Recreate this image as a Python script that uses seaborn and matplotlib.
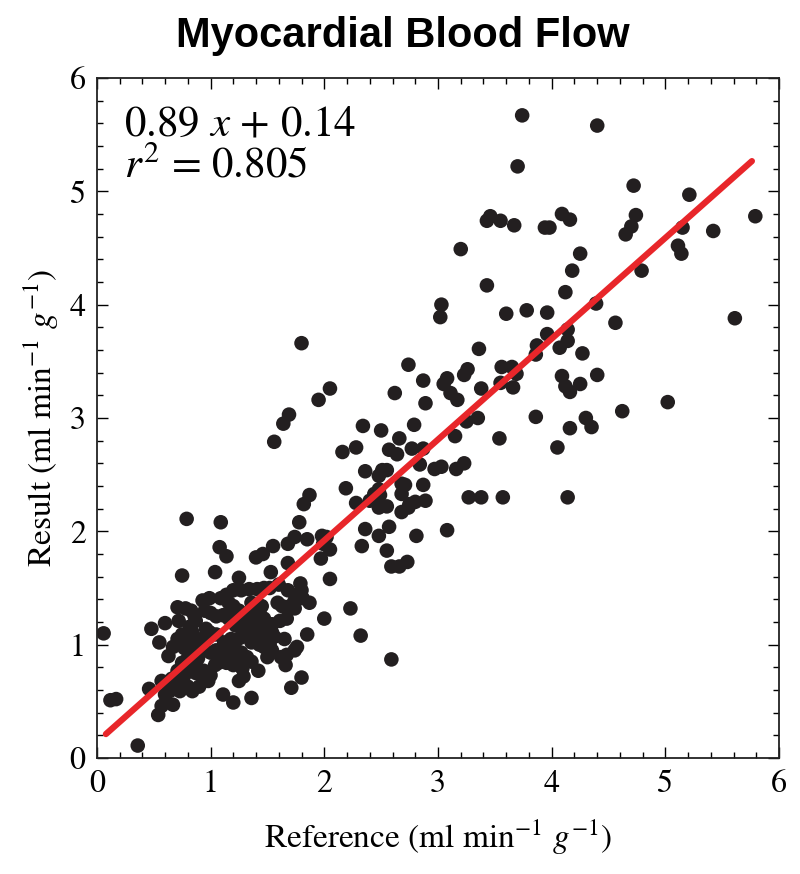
import numpy as np
import pandas as pd
import seaborn as sns
import matplotlib.pyplot as plt
from matplotlib.ticker import MultipleLocator

# Values (ml/min/g)
reference = [
    3.74, 4.40, 3.70, 4.72, 5.21, 5.79, 4.74, 4.70, 4.65, 5.15, 5.11, 5.14, 5.42,
    3.43, 3.46, 3.55, 3.67, 3.94, 3.98, 4.09, 4.16, 3.20, 4.25, 4.18, 4.79, 3.43,
    4.12, 3.03, 3.02, 4.39, 3.78, 3.60, 3.96, 4.56, 5.61, 3.96, 4.14, 3.87, 4.07,
    4.14, 3.86, 4.27, 3.36, 2.74, 1.80, 3.65, 3.56, 3.69, 4.40, 4.09, 3.26, 3.23,
    3.08, 3.05, 2.87, 3.55, 4.25, 3.66, 3.38, 4.12, 4.16, 2.62, 2.05, 3.11, 3.17,
    2.89, 1.95, 5.02, 4.62, 1.69, 1.64, 3.86, 4.30, 3.35, 3.25, 4.35, 4.16, 2.34,
    2.50, 1.56, 2.16, 2.28, 2.66, 2.79, 3.15, 3.54, 4.05, 2.57, 2.64, 2.77, 2.87,
    2.84, 2.71, 2.51, 2.55, 2.48, 2.36, 2.97, 3.03, 3.16, 3.23, 2.68, 2.87, 2.19,
    2.48, 2.44, 2.49, 2.68, 2.75, 2.74, 2.68, 2.80, 2.89, 2.28, 2.40, 2.55, 2.48,
    3.27, 3.38, 3.57, 4.14, 1.87, 1.82, 1.78, 2.57, 2.36, 3.08, 2.81, 2.48, 2.33,
    2.55, 2.59, 2.66, 2.73, 0.79, 1.09, 1.08, 1.14, 1.04, 0.75, 1.25, 1.40, 1.46,
    1.55, 1.74, 1.68, 1.68, 1.53, 1.60, 1.79, 1.85, 1.98, 2.02, 1.99, 1.97, 2.05,
    2.05, 2.00, 2.23, 2.32, 2.59,
    0.06, 0.12, 0.17, 0.36, 0.48, 0.55, 0.60, 0.63, 0.71, 0.72, 0.46, 0.54, 0.57,
    0.67, 1.11, 1.20, 1.36, 1.42, 1.66, 1.71, 1.80, 1.76, 1.87, 1.85, 1.54, 1.25,
    1.20, 1.27, 1.34, 1.41, 1.47, 1.52, 1.14, 1.09, 0.99, 0.93, 1.16, 1.20, 0.78,
    0.83, 0.86, 0.87, 0.82, 0.84, 0.83, 0.80, 0.77, 1.59, 1.63, 1.70, 1.74, 1.76,
    1.74, 1.67, 1.61, 1.54, 1.54, 1.56, 1.52, 1.47, 1.43, 1.36, 1.30, 1.35, 1.38,
    1.32, 1.40, 1.28, 1.36, 1.30, 1.42, 1.25, 1.23, 1.27, 1.43, 1.47, 1.45, 1.36,
    0.95, 1.00, 1.05, 1.11, 1.16, 0.96, 0.99, 1.05, 0.94, 0.89, 0.94, 1.00, 1.05,
    1.09, 1.14, 1.18, 1.16, 1.21, 1.27, 1.32, 1.36, 1.25, 1.20, 1.14, 1.07, 1.04,
    1.00, 0.98, 0.94, 0.87, 0.82, 0.77, 0.73, 0.69, 0.64, 0.60, 0.57, 0.66, 0.71,
    0.75, 0.80, 0.84, 0.89, 0.87, 0.80, 0.84, 0.73, 0.90, 0.94, 1.28, 1.29, 1.62,
    1.67, 1.74, 1.65, 1.50, 0.67, 0.75, 0.71, 1.68, 1.80, 1.81,
    1.33, 1.39, 1.26, 1.44, 1.31, 1.22, 1.37, 1.46, 1.18, 1.12, 0.91, 0.85,
]
result = [
    5.67, 5.58, 5.22, 5.05, 4.97, 4.78, 4.79, 4.69, 4.62, 4.68, 4.52, 4.45, 4.65,
    4.74, 4.78, 4.74, 4.70, 4.68, 4.68, 4.80, 4.75, 4.49, 4.45, 4.30, 4.30, 4.17,
    4.11, 4.00, 3.89, 4.01, 3.95, 3.92, 3.93, 3.84, 3.88, 3.74, 3.78, 3.64, 3.62,
    3.68, 3.56, 3.57, 3.61, 3.47, 3.66, 3.45, 3.45, 3.39, 3.38, 3.37, 3.43, 3.38,
    3.35, 3.30, 3.33, 3.31, 3.30, 3.27, 3.26, 3.28, 3.23, 3.22, 3.26, 3.22, 3.16,
    3.13, 3.16, 3.14, 3.06, 3.03, 2.95, 3.01, 3.00, 3.00, 2.97, 2.92, 2.91, 2.93,
    2.89, 2.79, 2.70, 2.74, 2.82, 2.94, 2.84, 2.82, 2.74, 2.72, 2.68, 2.73, 2.73,
    2.59, 2.41, 2.54, 2.54, 2.49, 2.53, 2.55, 2.57, 2.55, 2.60, 2.42, 2.41, 2.38,
    2.37, 2.33, 2.32, 2.33, 2.24, 2.21, 2.17, 2.26, 2.27, 2.25, 2.27, 2.22, 2.21,
    2.30, 2.30, 2.30, 2.30, 2.32, 2.24, 2.08, 2.04, 2.02, 2.01, 1.96, 1.96, 1.87,
    1.83, 1.69, 1.69, 1.73, 2.11, 2.08, 1.86, 1.78, 1.64, 1.61, 1.59, 1.77, 1.80,
    1.87, 1.95, 1.89, 1.72, 1.64, 1.53, 1.54, 1.93, 1.96, 1.95, 1.89, 1.76, 1.84,
    1.58, 1.23, 1.32, 1.08, 0.87,
    1.10, 0.51, 0.52, 0.11, 1.14, 1.02, 1.19, 0.90, 1.33, 1.21, 0.61, 0.38, 0.46,
    0.47, 0.56, 0.49, 0.53, 0.77, 0.82, 0.62, 0.71, 0.98, 1.37, 1.09, 0.95, 0.68,
    1.48, 1.48, 1.49, 1.49, 1.50, 1.50, 1.44, 1.41, 1.41, 1.39, 1.37, 1.34, 1.32,
    1.30, 1.25, 1.21, 1.16, 1.11, 1.06, 1.00, 0.97, 1.37, 1.34, 1.34, 1.39, 1.44,
    1.32, 1.23, 1.21, 1.18, 1.11, 1.07, 1.00, 0.98, 1.00, 1.02, 1.18, 1.15, 1.20,
    1.10, 1.12, 1.14, 1.24, 1.26, 1.18, 1.30, 1.25, 1.21, 1.30, 1.23, 1.34, 1.37,
    1.30, 1.28, 1.25, 1.26, 1.23, 1.14, 1.11, 1.09, 1.06, 1.00, 0.95, 0.93, 0.95,
    0.93, 0.91, 0.89, 0.95, 0.99, 0.93, 0.89, 0.85, 0.84, 0.82, 0.84, 0.84, 0.82,
    0.73, 0.68, 0.70, 0.75, 0.77, 0.73, 0.68, 0.63, 0.59, 0.56, 0.68, 0.70, 0.77,
    0.84, 0.88, 0.91, 0.88, 0.82, 0.63, 0.59, 0.59, 0.63, 0.77, 0.79, 0.72, 0.89,
    0.91, 0.95, 1.05, 0.89, 0.98, 1.09, 1.05, 1.48, 1.48, 1.41,
    1.13, 1.08, 1.06, 1.06, 1.22, 1.17, 1.28, 1.16, 1.05, 1.02, 1.02, 1.00,
]

# fitted line as printed on the figure
slope, intercept, r2 = 0.89, 0.14, 0.805
line_x = np.array([0.08, 5.76])

df = pd.DataFrame({"Reference": reference, "Result": result})

sns.set_theme(style="ticks")
plt.rcParams['font.family'] = ['STIXGeneral', 'DejaVu Serif']
plt.rcParams['mathtext.fontset'] = 'stix'
plt.rcParams['text.color'] = 'black'
plt.rcParams['axes.labelcolor'] = 'black'
plt.rcParams['xtick.color'] = 'black'
plt.rcParams['ytick.color'] = 'black'

fig = plt.figure(figsize=(8, 8.74), dpi=100)
ax = fig.add_axes([0.121, 0.1327, 0.853, 0.7781])

sns.scatterplot(data=df, x="Reference", y="Result", ax=ax, color="#231f20",
                s=110, edgecolor="none", zorder=2)
sns.lineplot(x=line_x, y=slope * line_x + intercept, ax=ax, color="#e8262a",
             linewidth=4.5, zorder=3)

ax.set_xlim(0, 6)
ax.set_ylim(0, 6)
ax.xaxis.set_major_locator(MultipleLocator(1))
ax.yaxis.set_major_locator(MultipleLocator(1))
ax.xaxis.set_minor_locator(MultipleLocator(0.2))
ax.yaxis.set_minor_locator(MultipleLocator(0.2))
ax.tick_params(which="both", direction="in", top=True, right=True, width=1.0)
ax.tick_params(which="major", length=8, labelsize=23, pad=8)
ax.tick_params(which="minor", length=4.5)
for sp in ax.spines.values():
    sp.set_linewidth(1.3)
    sp.set_color("#222222")

ax.set_xlabel(r"Reference (ml min$^{-1}$ $g^{-1}$)", fontsize=24, labelpad=14)
ax.set_ylabel(r"Result (ml min$^{-1}$ $g^{-1}$)", fontsize=24, labelpad=6)

ax.text(0.04, 0.916, rf"{slope} $x$ + {intercept}", transform=ax.transAxes,
        fontsize=31, va="baseline", ha="left")
ax.text(0.04, 0.853, rf"$r^2$ = {r2}", transform=ax.transAxes,
        fontsize=31, va="baseline", ha="left")

fig.suptitle("Myocardial Blood Flow", x=0.503, y=0.982, fontsize=30,
             fontweight="bold", family="Liberation Sans")

fig.savefig("out.png", dpi=100)
